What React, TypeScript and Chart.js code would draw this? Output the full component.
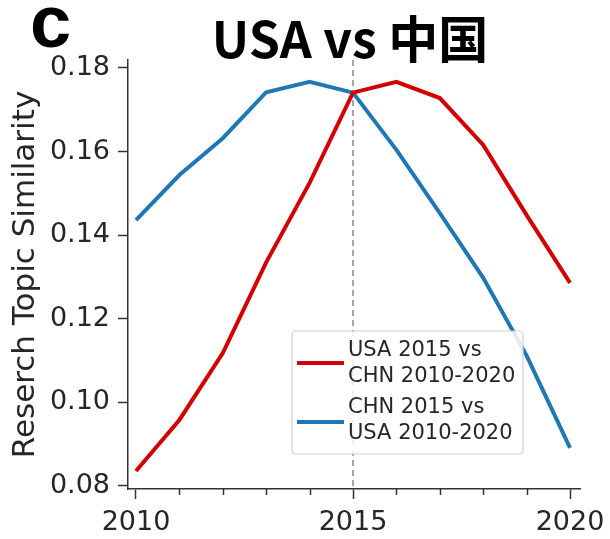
import React, { useEffect, useRef } from "react";
import { Chart, registerables } from "chart.js";

Chart.register(...registerables);

// ---- data ----
const years = [2010, 2011, 2012, 2013, 2014, 2015, 2016, 2017, 2018, 2019, 2020];
const usa2015VsChn = [0.0836, 0.0958, 0.1118, 0.1335, 0.1525, 0.1741, 0.1767, 0.1728, 0.1616, 0.1448, 0.1286];
const chn2015VsUsa = [0.1436, 0.1544, 0.1632, 0.1742, 0.1767, 0.1741, 0.1604, 0.1453, 0.1298, 0.1112, 0.0891];
const yTickValues = [0.08, 0.1, 0.12, 0.14, 0.16, 0.18];
const xTickLabels = [2010, 2015, 2020];
const seriesLabels = [
  ["USA 2015 vs", "CHN 2010-2020"],
  ["CHN 2015 vs", "USA 2010-2020"],
];
const seriesColors = ["#d40000", "#1f77b4"];
const referenceYear = 2015;
const panelLabel = "c";
const titleText = "USA vs 中国";
const yAxisTitle = "Reserch Topic Similarity";

const INK = "#262626";
const SANS = "'DejaVu Sans', sans-serif";

const decorations = {
  id: "decorations",
  beforeDatasetsDraw(chart: any) {
    const { ctx, chartArea, scales } = chart;
    const x = scales.x.getPixelForValue(referenceYear);
    ctx.save();
    ctx.strokeStyle = "#8a8a8a";
    ctx.lineWidth = 1.5;
    ctx.setLineDash([6, 4]);
    ctx.beginPath();
    ctx.moveTo(x, chartArea.top);
    ctx.lineTo(x, chartArea.bottom);
    ctx.stroke();
    ctx.restore();
  },
  afterDraw(chart: any) {
    const { ctx, chartArea, scales } = chart;
    ctx.save();

    // minor year ticks on the x axis
    ctx.strokeStyle = "#333";
    ctx.lineWidth = 1.5;
    years.forEach((yr) => {
      if (xTickLabels.includes(yr)) return;
      const x = Math.round(scales.x.getPixelForValue(yr)) + 0.5;
      ctx.beginPath();
      ctx.moveTo(x, chartArea.bottom);
      ctx.lineTo(x, chartArea.bottom + 6);
      ctx.stroke();
    });

    // panel label and title
    ctx.fillStyle = "#000";
    ctx.textBaseline = "alphabetic";
    ctx.textAlign = "left";
    ctx.font = "bold 74px 'Liberation Sans', Arial, sans-serif";
    ctx.fillText(panelLabel, 30, 47);
    ctx.textAlign = "center";
    ctx.font = "bold 50px 'Noto Sans CJK JP', sans-serif";
    ctx.fillText(titleText, (chartArea.left + chartArea.right) / 2 - 4, 58);

    // legend
    const bx = 292, by = 331, bw = 231, bh = 123;
    ctx.fillStyle = "rgba(255,255,255,0.85)";
    ctx.strokeStyle = "#d0d0d0";
    ctx.lineWidth = 1.2;
    ctx.beginPath();
    ctx.roundRect(bx, by, bw, bh, 4);
    ctx.fill();
    ctx.stroke();

    ctx.font = `21px ${SANS}`;
    ctx.textAlign = "left";
    const rows = [
      { handleY: 363, baselines: [356, 382] },
      { handleY: 422, baselines: [413, 439] },
    ];
    rows.forEach((row, i) => {
      ctx.strokeStyle = seriesColors[i];
      ctx.lineWidth = 4;
      ctx.beginPath();
      ctx.moveTo(297, row.handleY);
      ctx.lineTo(344, row.handleY);
      ctx.stroke();
      ctx.fillStyle = INK;
      seriesLabels[i].forEach((line, j) => ctx.fillText(line, 348, row.baselines[j]));
    });

    ctx.restore();
  },
};

export default function App() {
  const canvasRef = useRef<HTMLCanvasElement | null>(null);

  useEffect(() => {
    document.body.style.margin = "0";
    const canvas = canvasRef.current;
    if (!canvas) return;

    const chart = new Chart(canvas, {
      type: "line",
      data: {
        datasets: [usa2015VsChn, chn2015VsUsa].map((vals, i) => ({
          label: seriesLabels[i].join(" "),
          data: years.map((yr, k) => ({ x: yr, y: vals[k] })),
          borderColor: seriesColors[i],
          backgroundColor: seriesColors[i],
          borderWidth: 4,
          pointRadius: 0,
          tension: 0,
          fill: false,
        })),
      },
      options: {
        responsive: false,
        animation: false,
        devicePixelRatio: 1,
        layout: { padding: { top: 60, right: 30, left: 0, bottom: 0 } },
        plugins: {
          legend: { display: false },
          title: { display: false },
          tooltip: { enabled: false },
        },
        scales: {
          x: {
            type: "linear",
            min: 2009.816,
            max: 2020.23,
            afterBuildTicks: (scale: any) => {
              scale.ticks = years.map((v) => ({ value: v }));
            },
            afterFit: (scale: any) => {
              scale.height = 50;
              scale.paddingLeft = 0;
              scale.paddingRight = 0;
            },
            border: { display: true, color: "#333", width: 1.5 },
            grid: {
              display: true,
              drawOnChartArea: false,
              drawTicks: true,
              tickLength: 10,
              tickWidth: 1.5,
              tickColor: (ctx: any) =>
                ctx.tick && xTickLabels.includes(ctx.tick.value) ? "#333" : "rgba(0,0,0,0)",
            },
            ticks: {
              autoSkip: false,
              maxRotation: 0,
              padding: 8,
              color: INK,
              font: { family: SANS, size: 27 },
              callback: (v: any) => (xTickLabels.includes(Number(v)) ? String(v) : ""),
            },
          },
          y: {
            type: "linear",
            min: 0.07928,
            max: 0.18191,
            afterBuildTicks: (scale: any) => {
              scale.ticks = yTickValues.map((v) => ({ value: v }));
            },
            afterFit: (scale: any) => {
              scale.width = 128;
              scale.paddingTop = 0;
              scale.paddingBottom = 0;
            },
            border: { display: true, color: "#333", width: 1.5 },
            grid: {
              display: true,
              drawOnChartArea: false,
              drawTicks: true,
              tickLength: 10,
              tickWidth: 1.5,
              tickColor: "#333",
            },
            ticks: {
              padding: 8,
              color: INK,
              font: { family: SANS, size: 27 },
              callback: (v: any) => Number(v).toFixed(2),
            },
            title: {
              display: true,
              text: yAxisTitle,
              color: INK,
              font: { family: SANS, size: 31, weight: "normal" },
              padding: { top: 7, bottom: 0 },
            },
          },
        },
      },
      plugins: [decorations],
    });

    return () => chart.destroy();
  }, []);

  return (
    <div style={{ width: 610, height: 539, background: "#fff" }}>
      <canvas ref={canvasRef} width={610} height={539} />
    </div>
  );
}
